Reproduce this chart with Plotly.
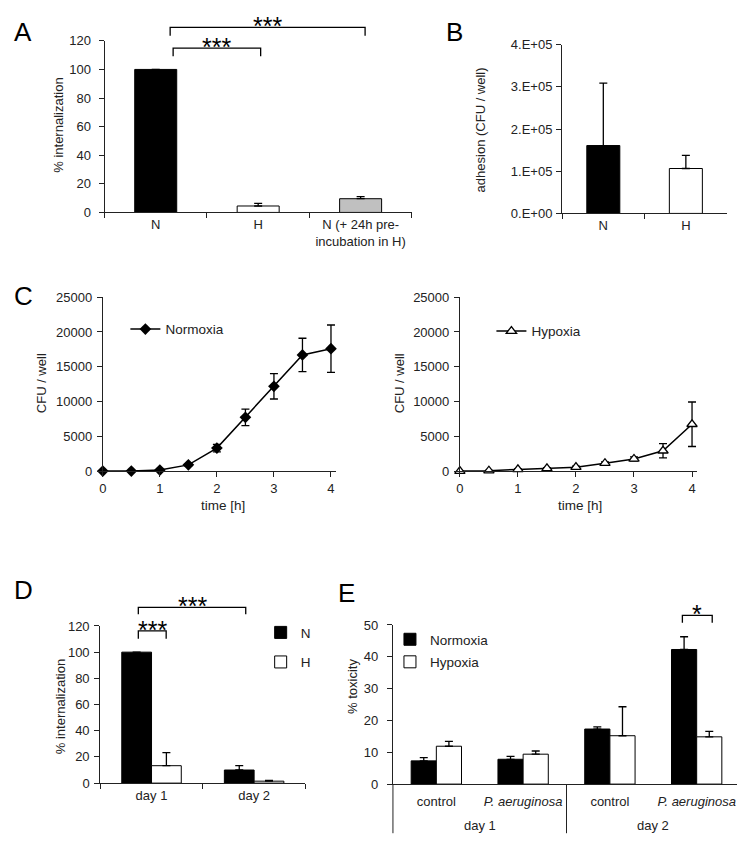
import plotly.graph_objects as go

W, H = 745, 845
OFF = 8  # the page body adds an 8px margin; positions below are screen pixels

# ---------------- data ----------------
# Panel A
a_categories = ["N", "H", "N (+ 24h pre-<br>incubation in H)"]
a_values = [100, 4.5, 9.6]
a_errors = [0, 1.8, 1.4]
a_colors = ["black", "white", "#c0c0c0"]

# Panel B
b_categories = ["N", "H"]
b_values = [161000, 106500]
b_errors = [148000, 31000]
b_tickvals = [0, 100000, 200000, 300000, 400000]
b_ticktext = ["0.E+00", "1.E+05", "2.E+05", "3.E+05", "4.E+05"]

# Panel C
c_time = [0, 0.5, 1, 1.5, 2, 2.5, 3, 3.5, 4]
c_normoxia = [0, 0, 140, 890, 3300, 7720, 12190, 16700, 17600]
c_normoxia_err = [0, 0, 60, 150, 550, 1200, 1830, 2400, 3400]
c_hypoxia = [0, 50, 235, 380, 565, 1130, 1740, 2920, 6730]
c_hypoxia_err = [0, 30, 80, 100, 150, 200, 300, 1030, 3200]

# Panel D
d_days = ["day 1", "day 2"]
d_normoxia = [100, 10]
d_normoxia_err = [0, 3.3]
d_hypoxia = [13.3, 1.5]
d_hypoxia_err = [10, 0.5]

# Panel E
e_days = ["day 1", "day 2"]
e_groups = ["control", "<i>P. aeruginosa</i>", "control", "<i>P. aeruginosa</i>"]
e_normoxia = [7.3, 7.8, 17.3, 42.3]
e_normoxia_err = [1.0, 0.9, 0.7, 4.0]
e_hypoxia = [11.9, 9.4, 15.2, 14.85]
e_hypoxia_err = [1.5, 1.0, 9.1, 1.7]

# ---------------- helpers ----------------
FONT = "Liberation Sans, Arial, sans-serif"
INK = "#222222"
TICK = 13


def px(x):
    return (x - OFF) / W


def py(y):
    return 1 - (y - OFF) / H


def xdom(x0, x1):
    return [px(x0), px(x1)]


def ydom(ybottom, ytop):
    return [py(ybottom), py(ytop)]


def base_axis(**kw):
    d = dict(showline=True, linecolor=INK, linewidth=1, ticks="outside", ticklen=5,
             tickcolor=INK, tickwidth=1, showgrid=False, zeroline=False,
             tickfont=dict(family=FONT, size=TICK, color=INK), fixedrange=True)
    d.update(kw)
    return d


def err(arr, sym=False):
    if sym:
        return dict(type="data", array=arr, visible=True, color="black", thickness=1.3, width=4)
    return dict(type="data", array=arr, arrayminus=[0] * len(arr), symmetric=False,
                visible=True, color="black", thickness=1.3, width=4)


fig = go.Figure()

# A
fig.add_trace(go.Bar(x=a_categories, y=a_values, width=0.41, error_y=err(a_errors),
                     marker=dict(color=a_colors, line=dict(color="black", width=1)),
                     showlegend=False, xaxis="x", yaxis="y"))
# B
fig.add_trace(go.Bar(x=b_categories, y=b_values, width=0.4, error_y=err(b_errors),
                     marker=dict(color=["black", "white"], line=dict(color="black", width=1)),
                     showlegend=False, xaxis="x2", yaxis="y2"))
# C left
fig.add_trace(go.Scatter(x=c_time, y=c_normoxia, mode="lines+markers", name="Normoxia",
                         line=dict(color="black", width=1.5),
                         marker=dict(symbol="diamond", size=9, color="black"),
                         error_y=err(c_normoxia_err, sym=True), cliponaxis=False,
                         xaxis="x3", yaxis="y3", legend="legend"))
# C right
fig.add_trace(go.Scatter(x=c_time, y=c_hypoxia, mode="lines+markers", name="Hypoxia",
                         line=dict(color="black", width=1.5),
                         marker=dict(symbol="triangle-up", size=9, color="white",
                                     line=dict(color="black", width=1.3)),
                         error_y=err(c_hypoxia_err, sym=True), cliponaxis=False,
                         xaxis="x4", yaxis="y4", legend="legend2"))
# D
fig.add_trace(go.Bar(x=d_days, y=d_normoxia, name="N", error_y=err(d_normoxia_err),
                     marker=dict(color="black", line=dict(color="black", width=1)),
                     xaxis="x5", yaxis="y5", legend="legend3", legendgroup="dn"))
fig.add_trace(go.Bar(x=d_days, y=d_hypoxia, name="H", error_y=err(d_hypoxia_err),
                     marker=dict(color="white", line=dict(color="black", width=1)),
                     xaxis="x5", yaxis="y5", legend="legend3", legendgroup="dh"))
# E (numeric positions 0..3 with the group names as tick text)
e_pos = list(range(len(e_groups)))
fig.add_trace(go.Bar(x=e_pos, y=e_normoxia, name="Normoxia", error_y=err(e_normoxia_err),
                     marker=dict(color="black", line=dict(color="black", width=1)),
                     xaxis="x6", yaxis="y6", legend="legend4", legendgroup="en"))
fig.add_trace(go.Bar(x=e_pos, y=e_hypoxia, name="Hypoxia", error_y=err(e_hypoxia_err),
                     marker=dict(color="white", line=dict(color="black", width=1)),
                     xaxis="x6", yaxis="y6", legend="legend4", legendgroup="eh"))

# time axis: 0..4 with a little room on the right so the last error-bar cap is not clipped
C_PX_PER_H_L = (328.7 - 99.3) / 4
C_PX_PER_H_R = (691.7 - 458.3) / 4
C_XMAX = 4.08

E_X0, E_X1 = 391, 740
E_RANGE = [-0.5, len(e_groups) - 0.5]


def e_screen_x(v):
    return E_X0 + (v - E_RANGE[0]) / (E_RANGE[1] - E_RANGE[0]) * (E_X1 - E_X0)


LEG = dict(family=FONT, size=13.5, color=INK)

layout = dict(
    width=W, height=H, margin=dict(l=0, r=0, t=0, b=0),
    paper_bgcolor="white", plot_bgcolor="white",
    font=dict(family=FONT, size=13, color=INK),
    barmode="group", bargap=0.42, bargroupgap=0,
    # A
    xaxis=base_axis(domain=xdom(101, 410), anchor="y", type="category", tickson="boundaries"),
    yaxis=base_axis(domain=ydom(209, 34.3), anchor="x", range=[0, 120], dtick=20,
                    ticklabelstandoff=5),
    # B
    xaxis2=base_axis(domain=xdom(561, 727), anchor="y2", type="category", tickson="boundaries"),
    yaxis2=base_axis(domain=ydom(210, 38.3), anchor="x2", range=[0, 400000],
                     tickmode="array", tickvals=b_tickvals, ticktext=b_ticktext,
                     ticklabelstandoff=1),
    # C left
    xaxis3=base_axis(domain=xdom(99.3, 99.3 + C_XMAX * C_PX_PER_H_L), anchor="y3",
                     range=[0, C_XMAX], tickmode="array", tickvals=[0, 1, 2, 3, 4]),
    yaxis3=base_axis(domain=ydom(472.3, 295.3), anchor="x3", range=[0, 25000], dtick=5000,
                     tickformat="d", ticklabelstandoff=2),
    # C right
    xaxis4=base_axis(domain=xdom(458.3, 458.3 + C_XMAX * C_PX_PER_H_R), anchor="y4",
                     range=[0, C_XMAX], tickmode="array", tickvals=[0, 1, 2, 3, 4]),
    yaxis4=base_axis(domain=ydom(472.3, 295.3), anchor="x4", range=[0, 25000], dtick=5000,
                     tickformat="d", ticklabelstandoff=2),
    # D
    xaxis5=base_axis(domain=xdom(96.7, 303), anchor="y5", type="category", tickson="boundaries"),
    yaxis5=base_axis(domain=ydom(790, 630), anchor="x5", range=[0, 120], dtick=20,
                     ticklabelstandoff=2),
    # E
    xaxis6=base_axis(domain=xdom(E_X0, E_X1), anchor="y6", range=E_RANGE, ticks="",
                     tickmode="array", tickvals=e_pos, ticktext=e_groups, ticklabelstandoff=5),
    yaxis6=base_axis(domain=ydom(791, 629), anchor="x6", range=[0, 50], dtick=10,
                     ticklabelstandoff=6),
    legend=dict(x=px(122), y=py(328), xanchor="left", yanchor="middle",
                bgcolor="rgba(0,0,0,0)", font=LEG),
    legend2=dict(x=px(490), y=py(330), xanchor="left", yanchor="middle",
                 bgcolor="rgba(0,0,0,0)", font=LEG),
    legend3=dict(x=px(258), y=py(621), xanchor="left", yanchor="top", tracegroupgap=9,
                 bgcolor="rgba(0,0,0,0)", font=LEG),
    legend4=dict(x=px(388), y=py(628), xanchor="left", yanchor="top", tracegroupgap=2,
                 bgcolor="rgba(0,0,0,0)", font=LEG),
)
fig.update_layout(**layout)

# ---------------- annotations: panel letters, axis titles, brackets ----------------
ann = []
LETTER_FONT = dict(family=FONT, size=26, color="black")
# A and B sit at the very top of the figure: anchor their boxes at the top edge
for letter, x in [("A", 8), ("B", 442)]:
    ann.append(dict(text=letter, x=px(x), y=1, xref="paper", yref="paper", showarrow=False,
                    xanchor="left", yanchor="top", font=LETTER_FONT))
for letter, x, y in [("C", 8, 294), ("D", 8, 593), ("E", 334, 596)]:
    ann.append(dict(text=letter, x=px(x), y=py(y), xref="paper", yref="paper", showarrow=False,
                    xanchor="left", yanchor="middle", font=LETTER_FONT))

for text, x, y in [("% internalization", 54, 120), ("adhesion (CFU / well)", 479, 125),
                   ("CFU / well", 38, 383), ("CFU / well", 397, 383),
                   ("% internalization", 57, 712), ("% toxicity", 351, 692)]:
    ann.append(dict(text=text, x=px(x), y=py(y), xref="paper", yref="paper", showarrow=False,
                    textangle=-90, xanchor="center", yanchor="middle",
                    font=dict(family=FONT, size=13, color=INK)))

for x, y in [(220, 507), (579, 507)]:
    ann.append(dict(text="time [h]", x=px(x), y=py(y), xref="paper", yref="paper", showarrow=False,
                    xanchor="center", yanchor="middle", font=dict(family=FONT, size=13.5, color=INK)))

# E: outer category row (days) and the divider lines below the axis
shapes = []
for i, day in enumerate(e_days):
    centre = e_screen_x(2 * i + 0.5)
    ann.append(dict(text=day, x=px(centre), y=py(833), xref="paper", yref="paper",
                    showarrow=False, xanchor="center", yanchor="middle",
                    font=dict(family=FONT, size=TICK, color=INK)))
for v in [-0.5, 1.5, 3.5]:
    xs = px(e_screen_x(v))
    shapes.append(dict(type="line", x0=xs, x1=xs, y0=py(791), y1=py(841), xref="paper",
                       yref="paper", line=dict(color=INK, width=1)))

brackets = [  # x0, x1, ytop, ybottom, label  (screen pixels)
    (167, 363, 20.7, 29, "***"),
    (170, 258, 41.7, 50, "***"),
    (135, 243, 611, 618, "***"),
    (135, 163, 635, 643, "***"),
    (682, 712, 619.3, 626.7, "*"),
]
for x0, x1, yt, yb, lab in brackets:
    path = f"M{px(x0)},{py(yb)} L{px(x0)},{py(yt)} L{px(x1)},{py(yt)} L{px(x1)},{py(yb)}"
    shapes.append(dict(type="path", path=path, xref="paper", yref="paper",
                       line=dict(color="black", width=1.3)))
    ann.append(dict(text=lab, x=px((x0 + x1) / 2), y=py(yt - 1), xref="paper", yref="paper",
                    showarrow=False, xanchor="center", yanchor="middle",
                    font=dict(family=FONT, size=25, color="black")))

fig.update_layout(annotations=ann, shapes=shapes)

fig.write_html("out.html")
